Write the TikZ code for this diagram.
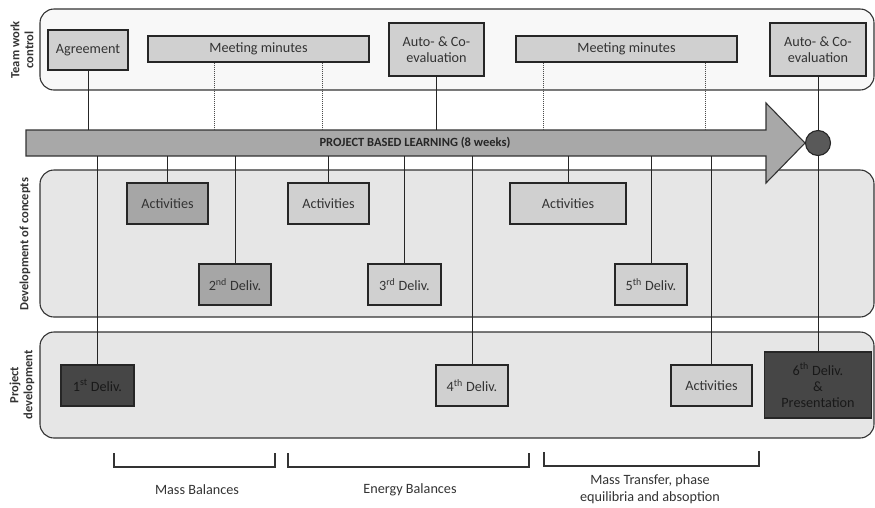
\documentclass[tikz,border=0pt]{standalone}
\usepackage{fontspec}
\setmainfont{Carlito}
\usetikzlibrary{calc}

\definecolor{panelwhite}{HTML}{F8F8F8}
\definecolor{panelgray}{HTML}{E6E6E6}
\definecolor{boxlight}{HTML}{D0D0D0}
\definecolor{boxmid}{HTML}{A6A6A6}
\definecolor{boxdark}{HTML}{464646}
\definecolor{arrowgray}{HTML}{A8A8A8}
\definecolor{goalgray}{HTML}{595959}
\definecolor{inkgray}{HTML}{333333}

\tikzset{
  panel/.style={draw=inkgray, line width=1.1pt, rounded corners=14pt},
  box/.style={draw=black!85, line width=1.2pt, fill=#1, inner sep=0pt, align=center,
    text=inkgray, font=\fontsize{14.2}{16}\selectfont},
  box/.default=boxlight,
  darkbox/.style={box=boxdark, text=black!90},
  link/.style={draw=black!85, line width=1pt},
  mlink/.style={draw=black!70, line width=1pt, densely dotted},
  lanelabel/.style={rotate=90, align=center, text=inkgray,
    font=\fontsize{12.5}{14}\selectfont\bfseries},
  bracket/.style={draw=inkgray, line width=1.1pt},
  topic/.style={align=center, text=inkgray, font=\fontsize{14.2}{17}\selectfont},
}

\begin{document}
\begin{tikzpicture}[x=1pt,y=-1pt]
\useasboundingbox (0,0) rectangle (875,507);

% lanes
\draw[panel, fill=panelwhite] (40,9) rectangle (874,90);
\draw[panel, fill=panelgray] (40,170) rectangle (874,317);
\draw[panel, fill=panelgray] (40,332) rectangle (874,438);
\node[lanelabel] (lteam) at (22,50) {Team work\\control};
\node[lanelabel] (lconc) at (25,244) {Development of concepts};
\node[lanelabel] (lproj) at (22,385) {Project\\development};

% timeline arrow
\filldraw[fill=arrowgray, draw=black!80, line width=1.1pt]
  (26,130) -- (766,130) -- (766,103) -- (805,143) -- (766,183) -- (766,156) -- (26,156) -- cycle;
\coordinate (atop) at (26,130);
\coordinate (abot) at (26,156);
\node[font=\fontsize{12.5}{14}\selectfont\bfseries, text=black!85] (pbl) at (415,143) {PROJECT BASED LEARNING (8 weeks)};
\node[circle, draw=black!85, line width=1.1pt, fill=goalgray, minimum size=25pt, inner sep=0pt] (goal) at (818,143) {};

% team work control
\node[box, minimum width=80pt, minimum height=40pt] (agree) at (88,50) {Agreement};
\node[box, minimum width=221pt, minimum height=26pt] (mm1) at (258.5,49) {Meeting minutes};
\node[box, minimum width=95pt, minimum height=53pt] (auto1) at (436.5,49.5) {Auto- \& Co-\\evaluation};
\node[box, minimum width=221pt, minimum height=26pt] (mm2) at (626.5,49) {Meeting minutes};
\node[box, minimum width=96pt, minimum height=53pt] (auto2) at (818,49.5) {Auto- \& Co-\\evaluation};

% development of concepts
\node[box=boxmid, minimum width=81pt, minimum height=41pt] (act1) at (167.5,203.5) {Activities};
\node[box=boxmid, minimum width=72pt, minimum height=41pt] (d2) at (235,284.5) {2\textsuperscript{nd} Deliv.};
\node[box, minimum width=81pt, minimum height=41pt] (act2) at (328.5,203.5) {Activities};
\node[box, minimum width=73pt, minimum height=41pt] (d3) at (404.5,284.5) {3\textsuperscript{rd} Deliv.};
\node[box, minimum width=116pt, minimum height=41pt] (act3) at (568,203.5) {Activities};
\node[box, minimum width=72pt, minimum height=41pt] (d5) at (651,284.5) {5\textsuperscript{th} Deliv.};

% project development
\node[darkbox, minimum width=73pt, minimum height=41pt] (d1) at (97.5,385.5) {1\textsuperscript{st} Deliv.};
\node[box, minimum width=72pt, minimum height=41pt] (d4) at (472,385.5) {4\textsuperscript{th} Deliv.};
\node[box, minimum width=81pt, minimum height=41pt] (act4) at (711.5,385.5) {Activities};
\node[darkbox, minimum width=107pt, minimum height=66pt] (d6) at (818,385) {6\textsuperscript{th} Deliv.\\\&\\Presentation};

% connectors
\foreach \n in {agree,auto1}
  \draw[link] (\n.south) -- (\n.south |- atop);
\coordinate (mm1a) at ($(mm1.south west)!0.303!(mm1.south east)$);
\coordinate (mm1b) at ($(mm1.south west)!0.787!(mm1.south east)$);
\coordinate (mm2a) at ($(mm2.south west)!0.127!(mm2.south east)$);
\coordinate (mm2b) at ($(mm2.south west)!0.855!(mm2.south east)$);
\foreach \n in {mm1a,mm1b,mm2a,mm2b}
  \draw[mlink] (\n) -- (\n |- atop);
\foreach \n in {act1,d2,act2,d3,act3,d5,d1,d4,act4}
  \draw[link] (\n.north) -- (\n.north |- abot);
\draw[link] (auto2.south) -- (goal.north);
\draw[link] (goal.south) -- (d6.north);

% topics
\draw[bracket] (114,453) -- (114,467) -- (275,467) -- (275,453);
\draw[bracket] (288,453) -- (288,467) -- (529,467) -- (529,453);
\draw[bracket] (544,452) -- (544,466) -- (759,466) -- (759,451);
\node[topic] (tmass) at (197,490) {Mass Balances};
\node[topic] (tener) at (410,490) {Energy Balances};
\node[topic] (ttran) at (650,489) {Mass Transfer, phase\\equilibria and absoption};
\end{tikzpicture}
\end{document}
